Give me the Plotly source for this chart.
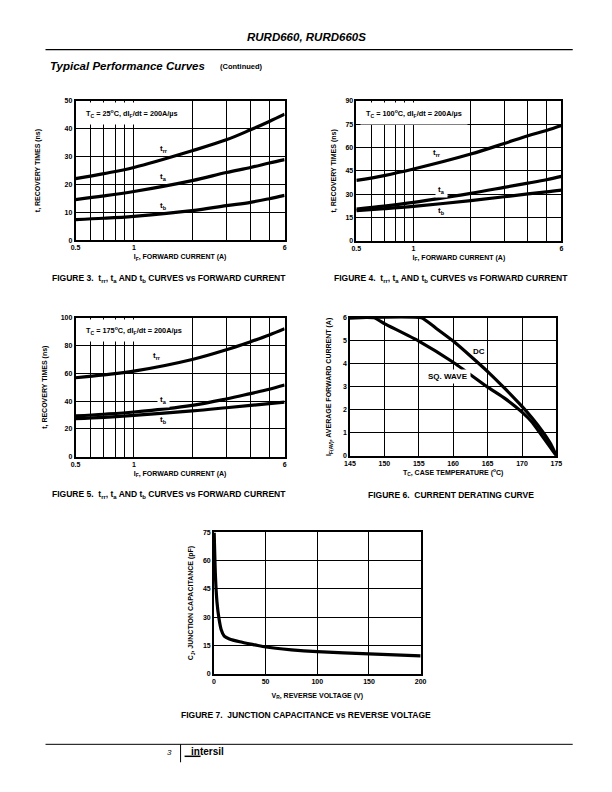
import plotly.graph_objects as go
import math

W, H = 612, 792
FONT = "Liberation Sans"

# The photographed page comes out slightly scaled; positions below are given in
# picture pixels and mapped back to page pixels here.
SX, OX = 0.98, 5.5
SY, OY = 0.993, 2.3

def px(x):
    return ((x - OX) / SX) / W

def py(y):
    return 1 - ((y - OY) / SY) / H

# ---------------- data ----------------
# Figure 3 (Tc = 25C)
if3 = [0.5, 0.7, 1, 2, 3, 4, 5, 6]
trr3 = [22.1, 23.9, 26.1, 32.1, 36.0, 39.6, 42.6, 45.2]
ta3 = [14.6, 15.9, 17.5, 21.4, 24.3, 26.1, 27.7, 28.9]
tb3 = [7.4, 7.9, 8.6, 10.6, 12.4, 13.6, 14.9, 16.1]

# Figure 4 (Tc = 100C)
if4 = [0.5, 0.7, 1, 2, 3, 4, 5, 6]
trr4 = [38.9, 42.0, 46.2, 55.8, 62.6, 67.6, 71.0, 74.2]
ta4 = [20.5, 22.4, 24.8, 30.6, 34.4, 37.1, 39.3, 41.5]
tb4 = [19.5, 20.7, 22.2, 25.9, 28.4, 30.2, 31.5, 32.7]

# Figure 5 (Tc = 175C)
if5 = [0.5, 0.7, 1, 2, 3, 4, 5, 6]
trr5 = [56.8, 58.9, 61.6, 70.0, 77.0, 82.8, 87.6, 92.1]
ta5 = [29.3, 30.5, 32.1, 36.9, 41.5, 45.4, 48.5, 51.6]
tb5 = [27.3, 28.3, 29.7, 32.9, 35.2, 36.9, 38.2, 39.3]

# Figure 6 derating
tc_dc = [145, 155.4, 157.5, 160, 162.5, 165.2, 167.5, 170, 171.5, 173, 174.2, 175]
if_dc = [6, 6, 5.55, 4.99, 4.34, 3.61, 2.93, 2.15, 1.63, 1.05, 0.5, 0]
tc_sq = [145, 148.5, 150, 155, 160, 165, 167.5, 170, 171.5, 172.6, 173.8, 175]
if_sq = [6, 6, 5.75, 4.99, 4.07, 2.99, 2.5, 1.9, 1.45, 1.0, 0.5, 0]

# Figure 7 junction capacitance
vr = [0.3, 1.5, 3, 5, 7, 10, 15, 25, 40, 50, 75, 100, 150, 200]
cj = [75, 52, 38, 29, 23.5, 20, 18.5, 17.0, 15.3, 14.2, 12.7, 11.7, 10.5, 9.5]

if_major = [0.5, 1, 6]
if_minor = [0.6, 0.7, 0.8, 0.9, 2, 3, 4, 5]

# ---------------- figure ----------------
fig = go.Figure()

curve = dict(color="black", width=3.2, shape="spline", smoothing=1.0)

def add(x, y, n):
    xa = "x" if n == 1 else f"x{n}"
    ya = "y" if n == 1 else f"y{n}"
    fig.add_trace(go.Scatter(x=x, y=y, mode="lines", line=curve,
                             xaxis=xa, yaxis=ya, showlegend=False,
                             hoverinfo="skip"))

add(if3, trr3, 1); add(if3, ta3, 1); add(if3, tb3, 1)
add(if4, trr4, 2); add(if4, ta4, 2); add(if4, tb4, 2)
add(if5, trr5, 3); add(if5, ta5, 3); add(if5, tb5, 3)
fig.add_trace(go.Scatter(x=tc_dc, y=if_dc, mode="lines", xaxis="x4", yaxis="y4",
                         line=dict(color="black", width=3.2, shape="spline", smoothing=0.4),
                         showlegend=False, hoverinfo="skip", cliponaxis=False))
fig.add_trace(go.Scatter(x=tc_sq, y=if_sq, mode="lines", xaxis="x4", yaxis="y4",
                         line=dict(color="black", width=3.2, shape="spline", smoothing=0.4),
                         showlegend=False, hoverinfo="skip", cliponaxis=False))
fig.add_trace(go.Scatter(x=vr, y=cj, mode="lines", xaxis="x5", yaxis="y5",
                         line=dict(color="black", width=3.2, shape="spline", smoothing=0.6),
                         showlegend=False, hoverinfo="skip", cliponaxis=False))

tickfont = dict(family=FONT, size=7, color="black", weight="bold")
titlefont = dict(family=FONT, size=7, color="black", weight="bold")

def axis(domain, anchor, **kw):
    d = dict(domain=domain, anchor=anchor, showline=True, linecolor="black",
             linewidth=1.5, mirror=True, showgrid=True, gridcolor="black",
             gridwidth=1, zeroline=False, ticks="", tickfont=tickfont,
             fixedrange=True)
    d.update(kw)
    return d

lr = [math.log10(0.5), math.log10(6)]

# plot-area boxes in picture pixels
d3x, d3y = [75, 284], [99.3, 239]
d4x, d4y = [355.7, 560.7], [99.3, 239.7]
d5x, d5y = [75, 284], [316.7, 455.7]
d6x, d6y = [349.3, 555.7], [316.7, 455]
d7x, d7y = [213.3, 420], [531.7, 673.3]

def dx(d):
    return [px(d[0]), px(d[1])]

def dy(d):
    return [py(d[1]), py(d[0])]

if_title = dict(text="I<sub>F</sub>, FORWARD CURRENT (A)", font=titlefont, standoff=4)

def tt(s):
    return dict(text="t, RECOVERY TIMES (ns)", font=titlefont, standoff=s)

minor = dict(tickmode="array", tickvals=if_minor, showgrid=True, gridcolor="black",
             gridwidth=1, ticks="")

def logax(d, anchor):
    return axis(dx(d), anchor, type="log", range=lr, tickmode="array",
                tickvals=if_major, ticktext=["0.5", "1", "6"], title=if_title, minor=minor)

fig.update_layout(
    xaxis=logax(d3x, "y"),
    yaxis=axis(dy(d3y), "x", range=[0, 50], tickvals=[0, 10, 20, 30, 40, 50], title=tt(23)),
    xaxis2=logax(d4x, "y2"),
    yaxis2=axis(dy(d4y), "x2", range=[0, 90], tickvals=[0, 15, 30, 45, 60, 75, 90], title=tt(8)),
    xaxis3=logax(d5x, "y3"),
    yaxis3=axis(dy(d5y), "x3", range=[0, 100], tickvals=[0, 20, 40, 60, 80, 100], title=tt(12)),
    xaxis4=axis(dx(d6x), "y4", range=[145, 175], tickvals=[145, 150, 155, 160, 165, 170, 175],
                title=dict(text="T<sub>C</sub>, CASE TEMPERATURE (<sup>o</sup>C)", font=titlefont, standoff=4)),
    yaxis4=axis(dy(d6y), "x4", range=[0, 6], tickvals=[0, 1, 2, 3, 4, 5, 6],
                title=dict(text="I<sub>F(AV)</sub>, AVERAGE FORWARD CURRENT (A)", font=titlefont, standoff=10)),
    xaxis5=axis(dx(d7x), "y5", range=[0, 200], tickvals=[0, 50, 100, 150, 200],
                title=dict(text="V<sub>R</sub>, REVERSE VOLTAGE (V)", font=titlefont, standoff=9)),
    yaxis5=axis(dy(d7y), "x5", range=[0, 75], tickvals=[0, 15, 30, 45, 60, 75],
                title=dict(text="C<sub>J</sub>, JUNCTION CAPACITANCE (pF)", font=titlefont, standoff=8)),
    width=W, height=H, margin=dict(l=0, r=0, t=0, b=0),
    paper_bgcolor="white", plot_bgcolor="white", showlegend=False,
    font=dict(family=FONT, color="black"),
)

ann = []
lblfont = dict(family=FONT, size=8, color="black", weight="bold")

def cond(text, n):
    xr = "x domain" if n == 1 else f"x{n} domain"
    yr = "y domain" if n == 1 else f"y{n} domain"
    ann.append(dict(text=text, xref=xr, yref=yr, x=0.02, y=1, xanchor="left",
                    yanchor="top", yshift=-1.5, showarrow=False, bgcolor="white",
                    borderpad=5, font=dict(family=FONT, size=7.3, color="black", weight="bold")))

cond("T<sub>C</sub> = 25<sup>o</sup>C, dI<sub>F</sub>/dt = 200A/µs", 1)
cond("T<sub>C</sub> = 100<sup>o</sup>C, dI<sub>F</sub>/dt = 200A/µs", 2)
cond("T<sub>C</sub> = 175<sup>o</sup>C, dI<sub>F</sub>/dt = 200A/µs", 3)

def lbl(text, x, y, n, bg=False, logx=True):
    xr = "x" if n == 1 else f"x{n}"
    yr = "y" if n == 1 else f"y{n}"
    xv = math.log10(x) if logx else x
    d = dict(text=text, xref=xr, yref=yr, x=xv, y=y, showarrow=False,
             xanchor="center", yanchor="middle", font=lblfont, borderpad=2)
    if bg:
        d["bgcolor"] = "white"
    ann.append(d)

lbl("t<sub>rr</sub>", 1.43, 32.8, 1)
lbl("t<sub>a</sub>", 1.43, 22.7, 1)
lbl("t<sub>b</sub>", 1.43, 12.2, 1)
lbl("t<sub>rr</sub>", 1.33, 56.4, 2)
lbl("t<sub>a</sub>", 1.40, 33.0, 2, bg=True)
lbl("t<sub>b</sub>", 1.40, 19.5, 2)
lbl("t<sub>rr</sub>", 1.31, 72.4, 3)
lbl("t<sub>a</sub>", 1.43, 40.5, 3, bg=True)
lbl("t<sub>b</sub>", 1.43, 26.4, 3)
lbl("DC", 163.8, 4.52, 4, logx=False)
lbl("SQ. WAVE", 159.2, 3.47, 4, bg=True, logx=False)

capfont = dict(family=FONT, size=8.5, color="black", weight="bold")

def note(text, x, y, font, xanchor="center"):
    ann.append(dict(text=text, xref="paper", yref="paper", x=px(x), y=py(y),
                    showarrow=False, font=font, xanchor=xanchor, yanchor="middle"))

note("FIGURE 3.  t<sub>rr</sub>, t<sub>a</sub> AND t<sub>b</sub> CURVES vs FORWARD CURRENT", 168, 277, capfont)
note("FIGURE 4.  t<sub>rr</sub>, t<sub>a</sub> AND t<sub>b</sub> CURVES vs FORWARD CURRENT", 450, 277, capfont)
note("FIGURE 5.  t<sub>rr</sub>, t<sub>a</sub> AND t<sub>b</sub> CURVES vs FORWARD CURRENT", 168, 494, capfont)
note("FIGURE 6.  CURRENT DERATING CURVE", 450, 494, capfont)
note("FIGURE 7.  JUNCTION CAPACITANCE vs REVERSE VOLTAGE", 305, 715, capfont)

# header / footer
note("<i>RURD660, RURD660S</i>", 306, 35, dict(family=FONT, size=11.5, color="black", weight="bold"))
note("<i>Typical Performance Curves</i>", 47, 64, dict(family=FONT, size=11.5, color="black", weight="bold"), "left")
note("(Continued)", 217, 65, dict(family=FONT, size=7.5, color="black", weight="bold"), "left")
note("<i>3</i>", 169, 752, dict(family=FONT, size=8, color="black"))
note("intersil", 188, 751, dict(family=FONT, size=10, color="black", weight="bold"), "left")
fig.update_layout(annotations=ann)

shapes = [
    dict(type="line", xref="paper", yref="paper", x0=px(45), x1=px(572), y0=py(48), y1=py(48),
         line=dict(color="black", width=1.2)),
    dict(type="line", xref="paper", yref="paper", x0=px(45), x1=px(572), y0=py(744), y1=py(744),
         line=dict(color="black", width=1)),
    dict(type="line", xref="paper", yref="paper", x0=px(180), x1=px(180), y0=py(744), y1=py(762),
         line=dict(color="black", width=1)),
    dict(type="line", xref="paper", yref="paper", x0=px(184), x1=px(200), y0=py(756), y1=py(756),
         line=dict(color="black", width=1.5)),
]
fig.update_layout(shapes=shapes)

fig.write_html(
    "out.html",
    config={"displayModeBar": False},
    post_script=("document.body.style.margin='0px';"
                 "document.body.style.overflow='hidden';"
                 "document.documentElement.style.overflow='hidden';"),
)
